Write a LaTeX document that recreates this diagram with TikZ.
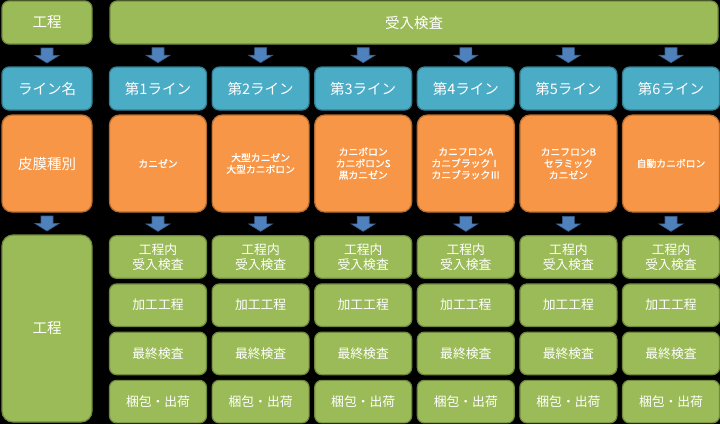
\documentclass[tikz,border=0pt]{standalone}
\usepackage{fontspec}
\setmainfont{Noto Sans CJK JP}
\newfontfamily\semibold[FakeBold=1.2]{Noto Sans CJK JP}
\usetikzlibrary{calc}
\definecolor{gfill}{HTML}{9BBB59}
\definecolor{gdraw}{HTML}{71893F}
\definecolor{bfill}{HTML}{4BACC6}
\definecolor{bdraw}{HTML}{357D91}
\definecolor{ofill}{HTML}{F79646}
\definecolor{odraw}{HTML}{B66D31}
\definecolor{afill}{HTML}{4F81BD}
\definecolor{adraw}{HTML}{385D8A}
\begin{document}
\begin{tikzpicture}[x=1pt,y=-1pt,
  box/.style={rounded corners=7pt, line width=1.2pt, text=white, align=center, inner sep=0pt},
  gbox/.style={box, fill=gfill, draw=gdraw},
  bbox/.style={box, fill=bfill, draw=bdraw},
  obox/.style={box, fill=ofill, draw=odraw, rounded corners=10pt},
  big/.style={font=\fontsize{14.5}{17}\selectfont},
  mid/.style={font=\fontsize{12.8}{15}\selectfont},
  small/.style={font=\semibold\fontsize{9.8}{11.6}\selectfont},
  pics/darrow/.style={code={\filldraw[fill=afill,draw=adraw,line width=0.6pt]
    (-6,-7.5) -- (6,-7.5) -- (6,0) -- (12,0) -- (0,7.5) -- (-12,0) -- (-6,0) -- cycle;}}
]
\fill[black] (0,0) rectangle (720,424);
\useasboundingbox (0,0) rectangle (720,424);

% left column
\node[gbox, big, minimum width=90pt, minimum height=43pt] (h0) at (47,22.5) {工程};
\node[bbox, big, minimum width=90pt, minimum height=43pt] (b0) at (47,88.5) {ライン名};
\node[obox, big, minimum width=90pt, minimum height=97pt] (o0) at (47,163.5) {皮膜種別};
\node[gbox, big, minimum width=90pt, minimum height=187pt, rounded corners=11pt] (g0) at (47,328.5) {工程};
\pic at ($(h0.south)!0.5!(b0.north)$) {darrow};
\pic at ($(o0.south)!0.5!(g0.north)$) {darrow};

% top wide box
\node[gbox, big, minimum width=608pt, minimum height=43pt] (h1) at (414,22.5) {受入検査};

% columns
\foreach \i in {1,...,6} {
  \pgfmathsetmacro\cx{158+102.6*(\i-1)}
  \node[bbox, big, minimum width=97pt, minimum height=43pt] (b\i) at (\cx,88.5) {第\i ライン};
  \node[gbox, mid, minimum width=97pt, minimum height=42.5pt] (ga\i) at (\cx,257) {工程内\\受入検査};
  \node[gbox, mid, minimum width=97pt, minimum height=42.5pt] (gb\i) at (\cx,305.2) {加工工程};
  \node[gbox, mid, minimum width=97pt, minimum height=42.5pt] (gc\i) at (\cx,353.4) {最終検査};
  \node[gbox, mid, minimum width=97pt, minimum height=42.5pt] (gd\i) at (\cx,401.6) {梱包・出荷};
  \coordinate (t\i) at (\cx,44);
}
\node[obox, small, minimum width=97pt, minimum height=97pt] (o1) at (158,163.5) {カニゼン};
\node[obox, small, minimum width=97pt, minimum height=97pt] (o2) at (260.6,163.5) {大型カニゼン\\大型カニボロン};
\node[obox, small, minimum width=97pt, minimum height=97pt] (o3) at (363.2,163.5) {カニボロン\\カニボロンS\\黒カニゼン};
\node[obox, small, minimum width=97pt, minimum height=97pt] (o4) at (465.8,163.5) {カニフロンA\\カニブラックⅠ\\カニブラックⅢ};
\node[obox, small, minimum width=97pt, minimum height=97pt] (o5) at (568.4,163.5) {カニフロンB\\セラミック\\カニゼン};
\node[obox, small, minimum width=97pt, minimum height=97pt] (o6) at (671,163.5) {自動カニボロン};

\foreach \i in {1,...,6} {
  \pic at ($(t\i)!0.5!(b\i.north)$) {darrow};
  \pic at ($(o\i.south)!0.5!(ga\i.north)$) {darrow};
}
\end{tikzpicture}
\end{document}
